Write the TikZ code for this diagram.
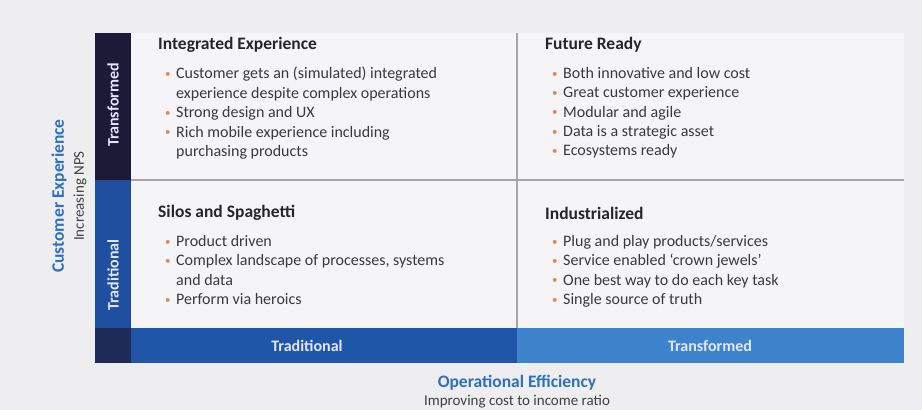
\documentclass[tikz,border=0pt]{standalone}
\usepackage{fontspec}
\setmainfont{Carlito}
\usepackage{xcolor}
\usetikzlibrary{positioning}

\definecolor{pagebg}{HTML}{EEEEF1}
\definecolor{panelbg}{HTML}{F5F5F7}
\definecolor{navy}{HTML}{1C1B37}
\definecolor{deepblue}{HTML}{1F4F9E}
\definecolor{tradblue}{HTML}{2056A8}
\definecolor{transblue}{HTML}{3D84CC}
\definecolor{axisblue}{HTML}{2E6FC0}
\definecolor{bulletorange}{HTML}{E5824F}
\definecolor{bodygray}{HTML}{3A3A3A}

\newcommand{\bul}{\hspace*{7pt}\makebox[11pt][l]{\raisebox{1.3pt}{\textcolor{bulletorange}{\fontsize{11}{11}\selectfont\textbullet}}}}
\newcommand{\cont}{\hspace*{18pt}}

\begin{document}
\begin{tikzpicture}[x=1pt, y=-1pt,
  qtitle/.style={anchor=west, inner sep=0pt, font=\fontsize{17.5}{19}\selectfont\bfseries, text=black!85},
  qbody/.style={anchor=north west, inner sep=0pt, align=left, text=bodygray, font=\fontsize{16}{19.4}\selectfont},
  barlbl/.style={text=white!90!blue, font=\fontsize{16}{18}\selectfont\bfseries},
  axislbl/.style={text=axisblue, font=\fontsize{17.5}{19}\selectfont\bfseries},
  axissub/.style={text=black!75, font=\fontsize{15}{17}\selectfont}]

% page and panels
\fill[pagebg] (0,0) rectangle (922,410);
\useasboundingbox (0,0) rectangle (922,410);
\fill[panelbg] (131,33) rectangle (904,328);
\draw[black!35, line width=1.2pt] (517,33) -- (517,328);
\draw[black!35, line width=1.2pt] (131,180) -- (904,180);

% vertical axis bar
\fill[navy] (95,33) rectangle (131,180);
\fill[deepblue] (95,180) rectangle (131,328);
\fill[navy!70!deepblue] (95,328) rectangle (131,363);
\node[barlbl, rotate=90] (ytrans) at (113,105) {Transformed};
\node[barlbl, rotate=90] (ytrad) at (113,275) {Traditional};

% horizontal axis bar
\fill[tradblue] (131,328) rectangle (517,363);
\fill[transblue] (517,328) rectangle (904,363);
\node[barlbl] (xtrad) at (307,346) {Traditional};
\node[barlbl] (xtrans) at (710,346) {Transformed};

% axis captions
\node[axislbl, rotate=90] (yaxis) at (59,196) {Customer Experience};
\node[axissub, rotate=90] (ysub) at (80,196) {Increasing NPS};
\node[axislbl] (xaxis) at (517,383) {Operational Efficiency};
\node[axissub] (xsub) at (517,402) {Improving cost to income ratio};

% quadrants
\node[qtitle] (ie) at (158,45) {Integrated Experience};
\node[qbody] (iebody) at (158,67) {%
  \bul Customer gets an (simulated) integrated\\
  \cont experience despite complex operations\\
  \bul Strong design and UX\\
  \bul Rich mobile experience including\\
  \cont purchasing products};

\node[qtitle] (fr) at (545,45) {Future Ready};
\node[qbody] (frbody) at (545,67) {%
  \bul Both innovative and low cost\\
  \bul Great customer experience\\
  \bul Modular and agile\\
  \bul Data is a strategic asset\\
  \bul Ecosystems ready};

\node[qtitle] (ss) at (158,213) {Silos and Spaghetti};
\node[qbody] (ssbody) at (158,235) {%
  \bul Product driven\\
  \bul Complex landscape of processes, systems\\
  \cont and data\\
  \bul Perform via heroics};

\node[qtitle] (ind) at (545,213) {Industrialized};
\node[qbody] (indbody) at (545,235) {%
  \bul Plug and play products/services\\
  \bul Service enabled `crown jewels'\\
  \bul One best way to do each key task\\
  \bul Single source of truth};
\end{tikzpicture}
\end{document}
